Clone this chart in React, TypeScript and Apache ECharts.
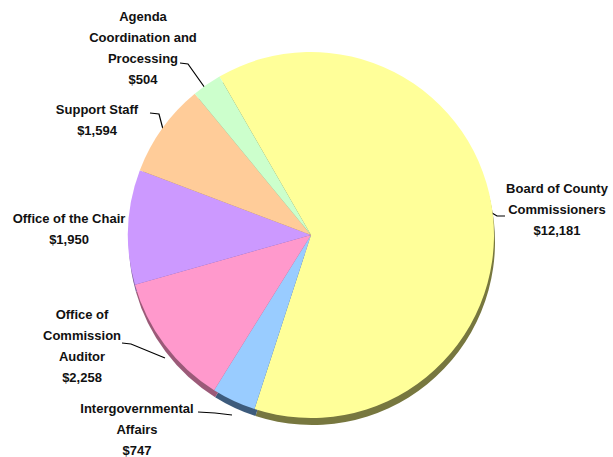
import React, { useEffect, useRef } from "react";
import * as echarts from "echarts";

const categories = [
  "Board of County\nCommissioners",
  "Intergovernmental\nAffairs",
  "Office of\nCommission\nAuditor",
  "Office of the Chair",
  "Support Staff",
  "Agenda\nCoordination and\nProcessing",
];
const values = [12181, 747, 2258, 1950, 1594, 504];
const colors = ["#ffff99", "#99ccff", "#ff99cc", "#cc99ff", "#ffcc99", "#ccffcc"];
const rimColors = ["#77773f", "#3d5b7c", "#9b5a78", "#7a5c99", "#99795c", "#7a997a"];

// label anchor positions (centre x, top y), box widths and leader lines per slice
const labelPos = [
  [557, 178],
  [137, 398],
  [82, 304],
  [69, 208],
  [97, 99],
  [143, 6],
];
const labelWidths = [104, 116, 78, 118, 84, 110];
const leaderLines: number[][][] = [
  [[492, 213], [497, 216], [505, 216]],
  [[198, 412], [215, 413], [232, 415]],
  [[122, 343], [131, 344], [165, 358]],
  [],
  [[150, 113], [159, 114], [164, 133]],
  [[180, 63], [188, 64], [210, 95]],
];

const fmt = (v: number) => "$" + v.toLocaleString("en-US");

export default function App() {
  const ref = useRef<HTMLDivElement>(null);
  useEffect(() => {
    if (!ref.current) return;
    const chart = echarts.init(ref.current, undefined, { renderer: "svg" });
    const data = categories.map((name, i) => ({
      name,
      value: values[i],
      itemStyle: { color: colors[i] },
      label: { width: labelWidths[i] },
      labelLine: { show: leaderLines[i].length > 0 },
    }));
    const rimData = categories.map((name, i) => ({ name, value: values[i], itemStyle: { color: rimColors[i] } }));
    chart.setOption({
      animation: false,
      backgroundColor: "#ffffff",
      series: [
        {
          type: "pie",
          silent: true,
          center: [312, 242],
          radius: 183,
          startAngle: 120,
          data: rimData,
          label: { show: false },
          labelLine: { show: false },
          z: 1,
        },
        {
          type: "pie",
          center: [311, 235],
          radius: 183,
          startAngle: 120,
          data,
          z: 2,
          itemStyle: { borderWidth: 0 },
          label: {
            show: true,
            formatter: (p: any) => p.name + "\n" + fmt(p.value),
            fontFamily: "'Liberation Sans', Arial, sans-serif",
            fontWeight: "bold",
            fontSize: 13,
            lineHeight: 21,
            color: "#111111",
            align: "center",
            overflow: "none",
          },
          labelLine: {
            show: true,
            length: 6,
            length2: 6,
            smooth: false,
            lineStyle: { color: "#000000", width: 1.2 },
          },
          labelLayout: (params: any) => {
            const p = labelPos[params.dataIndex];
            const pts = leaderLines[params.dataIndex];
            const res: any = {
              x: p[0],
              y: p[1],
              align: "center",
              verticalAlign: "top",
            };
            if (pts.length) res.labelLinePoints = pts;
            return res;
          },
        },
      ],
    });
    return () => chart.dispose();
  }, []);
  return (
    <div
      ref={ref}
      style={{ position: "absolute", left: 0, top: 0, width: 613, height: 457 }}
    />
  );
}
